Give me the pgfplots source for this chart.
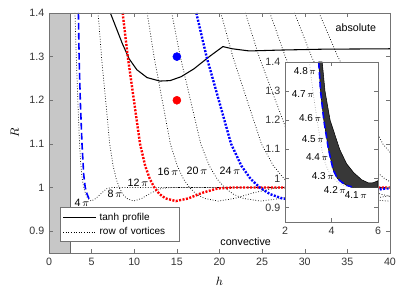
\documentclass[border=0pt]{standalone}
\usepackage{pgfplots}
\pgfplotsset{compat=1.18}
\usepackage{fontspec}
\setmainfont{Liberation Sans}
\tikzset{
  vort/.style={black, line width=0.55pt, dash pattern=on 0.55pt off 1.4pt},
  thickdot/.style={line width=1.8pt, dash pattern=on 1.5pt off 1.1pt},
}
\pgfplotsset{
  common/.style={
    scale only axis,
    /pgf/number format/assume math mode=true,
    tick label style={font=\fontsize{8}{9}\selectfont, text=black!80},
    tick align=inside, major tick length=3pt,
    tick style={black!55},
    axis line style={black!55},
    ytick={0.9,1,1.1,1.2,1.3,1.4},
    ymin=0.85, ymax=1.4,
  }
}
\begin{document}
\begin{tikzpicture}
\useasboundingbox (-36.75pt,-28.5pt) rectangle (274.5pt,189.75pt);
\begin{axis}[common,
  at={(0pt,0pt)}, anchor=south west,
  width=255.75pt, height=180pt,
  xmin=0, xmax=40,
  xtick={0,5,10,15,20,25,30,35,40},
  axis on top,
  xlabel={$h$}, ylabel={$R$},
  label style={font=\fontsize{9.5}{10}\selectfont},
  xlabel style={at={(axis description cs:0.5,-0.12)}, anchor=center},
  ylabel style={at={(axis description cs:-0.1,0.5)}, anchor=center},
  legend style={at={(rel axis cs:0.032,0.046)}, anchor=south west, draw=black!55, fill=white,
    font=\fontsize{7.5}{9}\selectfont, cells={anchor=west, text width=56pt}, inner sep=1.8pt},
  legend image code/.code={\draw[#1] (0pt,0pt) -- (25pt,0pt);},
]
% gray region
\addplot[draw=none, fill=black!22, forget plot] coordinates {(0,1.4) (2.5,1.4)} \closedcycle;
\addplot[black!60, line width=0.6pt, forget plot] coordinates {(2.5,0.85) (2.5,1.4)};

% tanh profile
\addplot[black, line width=0.8pt] coordinates {
(7.2,1.40) (8.0,1.36) (8.6,1.33) (9.4,1.295) (10.3,1.27) (11.5,1.252) (13.0,1.244) (14.2,1.245)
(15.5,1.254) (17.0,1.272) (18.8,1.300) (20.4,1.323) (21.5,1.318) (23.5,1.313) (27,1.315) (32,1.317) (40,1.318)};
\addlegendentry{tanh profile}

% row of vortices, 4 pi
\addplot[vort] coordinates {
(3.05,1.40) (3.2,1.30) (3.38,1.20) (3.58,1.10) (3.74,1.05) (3.9,1.02) (4.08,1.00) (4.3,0.985)
(4.55,0.975) (4.96,0.969) (5.5,0.975) (6.2,0.988) (6.8,0.998) (7.4,1.0) (40,1.0)};
\addlegendentry{row of vortices}

% 8 pi
\addplot[vort, forget plot] coordinates {
(5.76,1.40) (6.16,1.30) (6.64,1.20) (7.12,1.10) (7.52,1.05) (7.88,1.02) (8.24,1.00) (8.64,0.985)
(9.12,0.975) (9.92,0.969) (10.88,0.975) (12.00,0.988) (13.20,0.998) (14.40,1.0) (40,1.0)};
% 16 pi
\addplot[vort, forget plot] coordinates {
(11.52,1.40) (12.32,1.30) (13.28,1.20) (14.24,1.10) (15.04,1.05) (15.76,1.02) (16.48,1.00) (17.28,0.985)
(18.24,0.975) (19.84,0.969) (21.76,0.975) (24.00,0.988) (26.40,0.998) (28.80,1.0) (40,1.0)};
% 20 pi
\addplot[vort, forget plot] coordinates {
(14.40,1.40) (15.40,1.30) (16.60,1.20) (17.80,1.10) (18.80,1.05) (19.70,1.02) (20.60,1.00) (21.60,0.985)
(22.80,0.975) (24.80,0.969) (27.20,0.975) (30.00,0.988) (33.00,0.998) (36.00,1.0) (40,1.0)};
% 28 pi
\addplot[vort, forget plot] coordinates {
(20.16,1.40) (21.56,1.30) (23.24,1.20) (24.92,1.10) (26.32,1.05) (27.58,1.02) (28.84,1.00) (30.24,0.985)
(31.92,0.975) (34.72,0.969) (38.08,0.975) (42.00,0.988)};
% 32 pi
\addplot[vort, forget plot] coordinates {
(23.04,1.40) (24.64,1.30) (26.56,1.20) (28.48,1.10) (30.08,1.05) (31.52,1.02) (32.96,1.00) (34.56,0.985)
(36.48,0.975) (39.68,0.969) (43.52,0.975)};
% 36 pi
\addplot[vort, forget plot] coordinates {
(25.92,1.40) (27.72,1.30) (29.88,1.20) (32.04,1.10) (33.84,1.05) (35.46,1.02) (37.08,1.00) (38.88,0.985) (41.04,0.975)};
% 40 pi
\addplot[vort, forget plot] coordinates {
(28.80,1.40) (30.80,1.30) (33.20,1.20) (35.60,1.10) (37.60,1.05) (39.40,1.02) (41.20,1.00)};
% 44 pi
\addplot[vort, forget plot] coordinates {
(31.68,1.40) (33.88,1.30) (36.52,1.20) (39.16,1.10) (41.36,1.05)};

% 12 pi (red)
\addplot[red, thickdot, forget plot] coordinates {
(8.64,1.40) (9.24,1.30) (9.96,1.20) (10.68,1.10) (11.28,1.05) (11.82,1.02) (12.36,1.00) (12.96,0.985)
(13.68,0.975) (14.88,0.969) (16.32,0.975) (18.00,0.988) (19.80,0.998) (21.60,1.0) (40,1.0)};
% 24 pi (blue)
\addplot[blue, thickdot, forget plot] coordinates {
(17.28,1.40) (18.48,1.30) (19.92,1.20) (21.36,1.10) (22.56,1.05) (23.64,1.02) (24.72,1.00) (25.92,0.985)
(27.36,0.975) (29.76,0.969) (32.64,0.975) (36.00,0.988) (39.60,0.998) (43.20,1.0)};

% envelope
\addplot[blue, line width=1.2pt, dash pattern=on 5pt off 2.5pt, forget plot] coordinates {
(3.45,1.40) (3.53,1.30) (3.67,1.20) (3.87,1.10) (4.07,1.03) (4.25,1.00) (4.45,0.986) (4.65,0.976) (4.87,0.971)};

\addplot[only marks, mark=*, mark size=3pt, blue, forget plot] coordinates {(15,1.3)};
\addplot[only marks, mark=*, mark size=3pt, red, forget plot] coordinates {(15,1.2)};

\begin{scope}[font=\fontsize{8}{9}\selectfont]
\node at (axis cs:3.87,0.964) {4\,$\pi$};
\node at (axis cs:7.74,0.985) {8\,$\pi$};
\node at (axis cs:10.44,1.012) {12\,$\pi$};
\node at (axis cs:13.96,1.035) {16\,$\pi$};
\node at (axis cs:17.36,1.038) {20\,$\pi$};
\node at (axis cs:21.23,1.038) {24\,$\pi$};
\node at (axis cs:36.0,1.366) {absolute};
\node at (axis cs:23.07,0.875) {convective};
\end{scope}
\end{axis}

\begin{axis}[common,
  at={(177pt,23.25pt)}, anchor=south west,
  width=69.75pt, height=120pt,
  xmin=2, xmax=6, xtick={2,4,6},
  axis background/.style={fill=white},
  axis on top,
]
\addplot[gray!70, line width=0.5pt, dash pattern=on 0.5pt off 1.4pt] coordinates {
(3.05,1.40) (3.2,1.30) (3.38,1.20) (3.58,1.10) (3.74,1.05) (3.9,1.02) (4.08,1.00) (4.3,0.985)
(4.55,0.975) (4.96,0.969) (5.5,0.975) (6.2,0.988)};
\addplot[fill=black!78, draw=black, line width=0.4pt] coordinates {
(3.45,1.40) (3.53,1.30) (3.67,1.20) (3.87,1.10) (4.07,1.03) (4.25,1.00) (4.45,0.986) (4.65,0.976) (4.87,0.969)
(6.0,0.969) (6.0,0.992) (5.8,0.985) (5.6,0.984) (5.3,0.995) (4.95,1.02) (4.65,1.05) (4.35,1.10)
(3.94,1.20) (3.72,1.30) (3.6,1.40)} -- cycle;
\addplot[blue, line width=1.2pt, dash pattern=on 5pt off 2.5pt] coordinates {
(3.45,1.40) (3.53,1.30) (3.67,1.20) (3.87,1.10) (4.07,1.03) (4.25,1.00) (4.45,0.986) (4.65,0.976) (4.87,0.971)};
\begin{scope}[font=\fontsize{7.5}{9}\selectfont]
\node at (axis cs:2.86,1.369) {4.8\,$\pi$};
\node at (axis cs:2.77,1.289) {4.7\,$\pi$};
\node at (axis cs:3.08,1.209) {4.6\,$\pi$};
\node at (axis cs:3.20,1.136) {4.5\,$\pi$};
\node at (axis cs:3.38,1.074) {4.4\,$\pi$};
\node at (axis cs:3.63,1.008) {4.3\,$\pi$};
\node at (axis cs:4.15,0.959) {4.2\,$\pi$};
\node at (axis cs:5.05,0.942) {4.1\,$\pi$};
\end{scope}
\end{axis}
\end{tikzpicture}
\end{document}
